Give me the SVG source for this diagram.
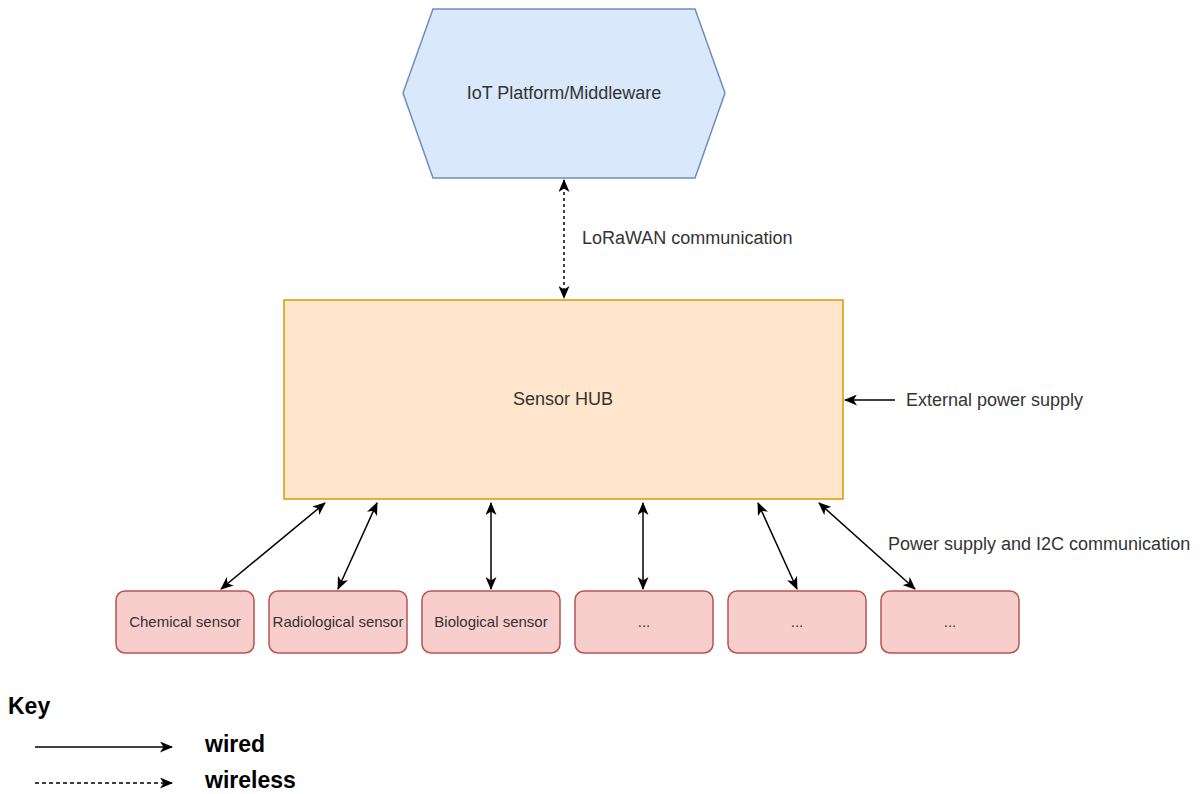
<svg xmlns="http://www.w3.org/2000/svg" width="1200" height="794" viewBox="0 0 1200 794">
<style>
.t{font-family:"Liberation Sans",Arial,sans-serif;fill:#333;}
.lbl{font-size:18px;}
.s{font-size:15px;text-anchor:middle;}
.k{font-size:23px;font-weight:bold;fill:#000;}
.sensor{fill:#f8cecc;stroke:#b85450;stroke-width:1.5;}
.ln{stroke:#000;stroke-width:1.5;fill:none;}
</style>
<defs>
<marker id="ah" markerUnits="userSpaceOnUse" markerWidth="13" markerHeight="11" viewBox="0 0 13 11" refX="12" refY="5.5" orient="auto-start-reverse">
<path d="M0,0 L13,5.5 L0,11 L3.5,5.5 Z" fill="#000"/>
</marker>
</defs>
<rect width="1200" height="794" fill="#fff"/>
<g id="iot-platform">
<polygon points="433,9 695,9 725,93 695,178 433,178 403,93" fill="#dae8fc" stroke="#6c8ebf" stroke-width="1.5"/>
<text class="t lbl" x="564" y="99" text-anchor="middle">IoT Platform/Middleware</text>
</g>
<g id="sensor-hub">
<rect x="284" y="300" width="559" height="199" fill="#ffe6cc" stroke="#d79b00" stroke-width="1.5"/>
<text class="t lbl" x="563" y="405" text-anchor="middle">Sensor HUB</text>
</g>
<g id="chemical-sensor"><rect class="sensor" x="116" y="591" width="138" height="62" rx="9"/><text class="t s" x="185" y="627">Chemical sensor</text></g>
<g id="radiological-sensor"><rect class="sensor" x="269" y="591" width="138" height="62" rx="9"/><text class="t s" x="338" y="627">Radiological sensor</text></g>
<g id="biological-sensor"><rect class="sensor" x="422" y="591" width="138" height="62" rx="9"/><text class="t s" x="491" y="627">Biological sensor</text></g>
<g id="sensor-4"><rect class="sensor" x="575" y="591" width="138" height="62" rx="9"/><text class="t s" x="644" y="627">...</text></g>
<g id="sensor-5"><rect class="sensor" x="728" y="591" width="138" height="62" rx="9"/><text class="t s" x="797" y="627">...</text></g>
<g id="sensor-6"><rect class="sensor" x="881" y="591" width="138" height="62" rx="9"/><text class="t s" x="950" y="627">...</text></g>
<g id="connectors">
<line class="ln" x1="564" y1="180" x2="564" y2="298" stroke-dasharray="3 3" marker-start="url(#ah)" marker-end="url(#ah)"/>
<line class="ln" x1="895" y1="400" x2="845" y2="400" marker-end="url(#ah)"/>
<line class="ln" x1="325" y1="503" x2="221" y2="589" marker-start="url(#ah)" marker-end="url(#ah)"/>
<line class="ln" x1="377" y1="503" x2="338" y2="589" marker-start="url(#ah)" marker-end="url(#ah)"/>
<line class="ln" x1="491" y1="503" x2="491" y2="589" marker-start="url(#ah)" marker-end="url(#ah)"/>
<line class="ln" x1="643" y1="503" x2="643" y2="589" marker-start="url(#ah)" marker-end="url(#ah)"/>
<line class="ln" x1="758" y1="503" x2="797" y2="589" marker-start="url(#ah)" marker-end="url(#ah)"/>
<line class="ln" x1="819" y1="503" x2="915" y2="589" marker-start="url(#ah)" marker-end="url(#ah)"/>
</g>
<g id="labels">
<text class="t lbl" x="582" y="244">LoRaWAN communication</text>
<text class="t lbl" x="906" y="406">External power supply</text>
<text class="t lbl" x="888" y="550">Power supply and I2C communication</text>
</g>
<g id="key">
<text class="t k" x="8" y="714">Key</text>
<line class="ln" x1="35" y1="747" x2="172" y2="747" marker-end="url(#ah)"/>
<text class="t k" x="205" y="752">wired</text>
<line class="ln" x1="35" y1="783" x2="172" y2="783" stroke-dasharray="4 3" marker-end="url(#ah)"/>
<text class="t k" x="205" y="788">wireless</text>
</g>
</svg>
